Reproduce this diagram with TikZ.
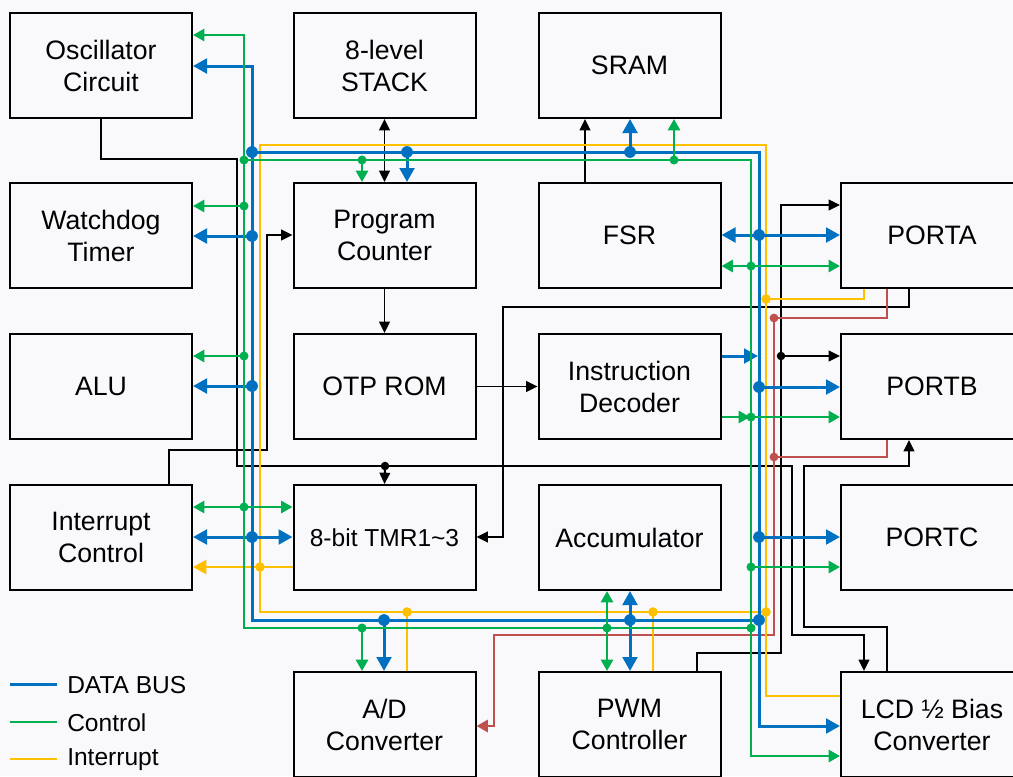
\documentclass[tikz,border=0pt]{standalone}
\usepackage{fontspec}
\setmainfont{Liberation Sans}
\usetikzlibrary{arrows.meta}
\definecolor{cblue}{HTML}{0070C0}
\definecolor{cgreen}{HTML}{00B050}
\definecolor{cyel}{HTML}{FFC000}
\definecolor{cred}{HTML}{C0504D}
\definecolor{bgc}{RGB}{249,249,252}
\newcommand\mkdot[3]{\fill[#1] (#2) circle[radius=#3];}
\begin{document}
\begin{tikzpicture}[x=0.75pt,y=-0.75pt,
 box/.style={draw=black,line width=1.5pt,minimum width=136.5pt,minimum height=78.75pt,inner sep=0pt,align=center,font=\fontsize{20}{24}\selectfont},
 blk/.style={draw=black,line width=1.4pt,>={Triangle[length=8.5pt,width=8pt]}},
 bl/.style={draw=cblue,line width=2.25pt,>={Triangle[length=10.5pt,width=11pt]}},
 gl/.style={draw=cgreen,line width=2pt,>={Triangle[length=8.5pt,width=9pt]}},
 yl/.style={draw=cyel,line width=2pt,>={Triangle[length=10pt,width=10.5pt]}},
 rl/.style={draw=cred,line width=2pt,>={Triangle[length=8.5pt,width=9pt]}},
 lg/.style={anchor=west,font=\fontsize{18.4}{20}\selectfont,inner sep=0pt}
]
\useasboundingbox (0,0) rectangle (1013,776);
\clip (0,0) rectangle (1013,776);
\fill[bgc] (0,0) rectangle (1013,776);

% boxes
\node[box] (osc) at (101,65.5) {Oscillator\\Circuit};
\node[box] (stack) at (384.5,65.5) {8-level\\STACK};
\node[box] (sram) at (629.5,65.5) {SRAM};
\node[box] (wdt) at (101,235.5) {Watchdog\\Timer};
\node[box] (pc) at (384.5,235.5) {Program\\Counter};
\node[box] (fsr) at (629.5,235.5) {FSR};
\node[box] (porta) at (932,235.5) {PORTA};
\node[box] (alu) at (101,386.5) {ALU};
\node[box] (otp) at (384.5,386.5) {OTP ROM};
\node[box] (idec) at (629.5,386.5) {Instruction\\Decoder};
\node[box] (portb) at (932,386.5) {PORTB};
\node[box] (intc) at (101,537.5) {Interrupt\\Control};
\node[box,font=\fontsize{18.4}{24}\selectfont] (tmr) at (384.5,537.5) {8-bit TMR1\textasciitilde 3};
\node[box] (acc) at (629.5,537.5) {Accumulator};
\node[box] (portc) at (932,537.5) {PORTC};
\node[box] (adc) at (384.5,724.5) {A/D\\Converter};
\node[box] (pwm) at (629.5,724.5) {PWM\\Controller};
\node[box] (lcd) at (932,724.5) {LCD ½ Bias\\Converter};

% black connectors
\draw[blk,->] (osc.south) -- (101,159) -- (237,159) -- (237,466) -- (792,466) -- (792,635) -- (864,635) -- (lcd.north -| 864,0);
\draw[blk,->] (385,466) -- (tmr.north);
\mkdot{black}{385,466}{3.2pt}
\draw[blk,->] (intc.north -| 169,0) -- (169,450) -- (267,450) -- (267,235) -- (pc.west |- 0,235);
\draw[blk,->] (porta.south -| 909,0) -- (909,307) -- (503,307) -- (503,537) -- (tmr.east |- 0,537);
\draw[blk,->] (pwm.north -| 697,0) -- (697,653) -- (781,653) -- (781,205) -- (porta.west |- 0,205);
\draw[blk,->] (781,356) -- (portb.west |- 0,356);
\mkdot{black}{781,356}{3.2pt}
\draw[blk,->] (lcd.north -| 887,0) -- (887,627) -- (804,627) -- (804,466) -- (909,466) -- (portb.south -| 909,0);
\draw[blk,<->] (stack.south) -- (pc.north);
\draw[blk,->] (pc.south) -- (otp.north);
\draw[blk,->] (otp.east) -- (idec.west);
\draw[blk,->] (fsr.north -| 585,0) -- (sram.south -| 585,0);

% red
\draw[rl,->] (porta.south -| 887,0) -- (887,318) -- (774,318) -- (774,635) -- (494,635) -- (494,726) -- (adc.east |- 0,726);
\draw[rl] (portb.south -| 887,0) -- (887,457) -- (774,457);
\mkdot{cred}{774,318}{3.3pt}
\mkdot{cred}{774,457}{3.3pt}

% yellow (interrupt)
\draw[yl] (766,612) -- (260,612) -- (260,145) -- (766,145) -- (766,696) -- (lcd.west |- 0,696);
\draw[yl,->] (tmr.west |- 0,567) -- (intc.east |- 0,567);
\draw[yl] (407,612) -- (adc.north -| 407,0);
\draw[yl] (653,612) -- (pwm.north -| 653,0);
\draw[yl] (porta.south -| 864,0) -- (864,299) -- (766,299);

% blue (data bus)
\draw[bl,<-] (osc.east |- 0,66) -- (252,66) -- (252,620) -- (759,620);
\draw[bl,->] (252,152) -- (759,152) -- (759,726) -- (lcd.west |- 0,726);
\draw[bl,->] (252,236) -- (wdt.east |- 0,236);
\draw[bl,->] (252,386) -- (alu.east |- 0,386);
\draw[bl,<->] (intc.east |- 0,537) -- (tmr.west |- 0,537);
\draw[bl,->] (407,152) -- (pc.north -| 407,0);
\draw[bl,->] (630,152) -- (sram.south -| 630,0);
\draw[bl,<->] (fsr.east |- 0,235) -- (porta.west |- 0,235);
\draw[bl,->] (idec.east |- 0,356) -- (758,356);
\draw[bl,->] (759,387) -- (portb.west |- 0,387);
\draw[bl,->] (759,537) -- (portc.west |- 0,537);
\draw[bl,->] (384,620) -- (adc.north -| 384,0);
\draw[bl,<->] (acc.south -| 630,0) -- (pwm.north -| 630,0);

% green (control)
\draw[gl,<-] (osc.east |- 0,35) -- (244,35) -- (244,628) -- (751,628);
\draw[gl,->] (244,160) -- (751,160) -- (751,756) -- (lcd.west |- 0,756);
\draw[gl,->] (244,206) -- (wdt.east |- 0,206);
\draw[gl,->] (244,356) -- (alu.east |- 0,356);
\draw[gl,<->] (intc.east |- 0,507) -- (tmr.west |- 0,507);
\draw[gl,->] (362,160) -- (pc.north -| 362,0);
\draw[gl,->] (674,160) -- (sram.south -| 674,0);
\draw[gl,<->] (fsr.east |- 0,266) -- (porta.west |- 0,266);
\draw[gl,->] (idec.east |- 0,417) -- (750,417);
\draw[gl,->] (751,417) -- (portb.west |- 0,417);
\draw[gl,->] (751,567) -- (portc.west |- 0,567);
\draw[gl,->] (362,628) -- (adc.north -| 362,0);
\draw[gl,<->] (acc.south -| 607,0) -- (pwm.north -| 607,0);

% junction dots
\foreach \p in {(260,567),(407,612),(653,612),(766,299),(766,612)}
  \fill[cyel] \p circle[radius=3.6pt];
\foreach \p in {(252,152),(252,236),(252,386),(252,537),(407,152),(630,152),(759,235),(759,387),(759,537),(384,620),(630,620),(759,620)}
  \fill[cblue] \p circle[radius=4.4pt];
\foreach \p in {(244,160),(244,206),(244,356),(244,507),(362,160),(674,160),(751,266),(751,417),(751,567),(362,628),(607,628),(751,628)}
  \fill[cgreen] \p circle[radius=3.4pt];

% legend
\draw[bl] (10,684) -- (57,684);
\node[lg] (lgd) at (67,685) {DATA BUS};
\draw[gl] (10,722) -- (57,722);
\node[lg] (lgc) at (67,723) {Control};
\draw[yl] (10,759) -- (57,759);
\node[lg] (lgi) at (67,760) {Interrupt};
\end{tikzpicture}
\end{document}
